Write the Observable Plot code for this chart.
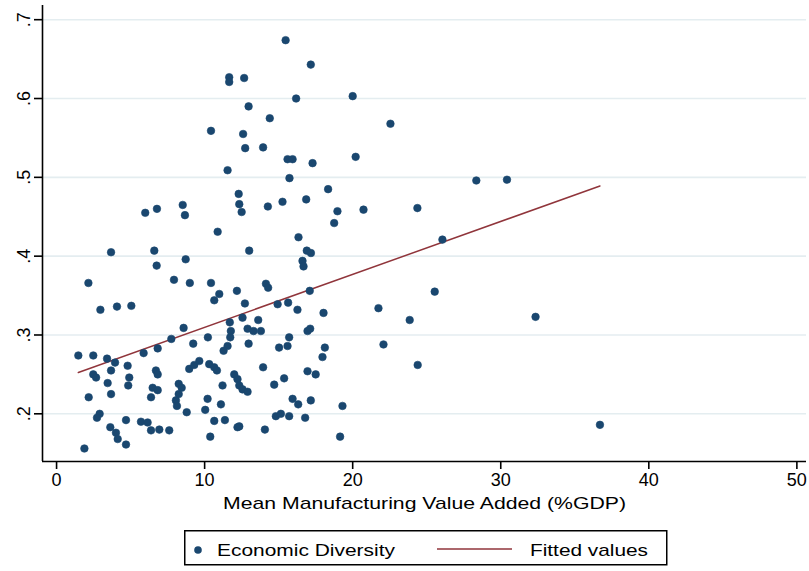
<!DOCTYPE html>
<html>
<head>
<meta charset="utf-8">
<script src="https://cdn.jsdelivr.net/npm/d3@7"></script>
<script src="https://cdn.jsdelivr.net/npm/@observablehq/plot@0.6"></script>
<style>
  html, body { margin: 0; padding: 0; background: #fff; }
  #wrap { position: relative; width: 809px; height: 571px; font-family: "Liberation Sans", Arial, sans-serif; }
  #legend { position: absolute; left: 184px; top: 530px; }
</style>
</head>
<body>
<div id="wrap"><div id="chart"></div><div id="legend"></div></div>
<script>
// Mean manufacturing value added (%GDP)
const mva = [
  15.47, 17.17, 11.66, 11.66, 12.67, 16.18, 20.0, 12.97, 14.4, 22.55,
  10.43, 12.6, 12.74, 13.95, 15.6, 15.94, 17.29, 20.2, 11.55, 15.73,
  18.34, 28.35, 30.42, 12.3, 12.34, 12.5, 14.27, 15.26, 16.86, 18.97,
  20.73, 24.37, 18.75, 5.99, 6.78, 8.52, 8.67, 10.88, 16.34, 26.06,
  3.68, 6.6, 6.76, 8.72, 13.01, 16.9, 17.18, 16.61, 16.68, 2.15,
  7.93, 9.0, 10.43, 10.99, 10.65, 12.18, 14.14, 14.29, 17.1, 25.54,
  12.72, 14.93, 15.64, 16.27, 18.03, 21.74, 23.85, 32.35, 2.96, 4.08,
  5.05, 8.58, 7.75, 9.23, 10.22, 11.7, 11.77, 11.73, 11.55, 11.28,
  12.56, 13.62, 12.9, 13.3, 13.8, 12.97, 15.71, 15.6, 15.03, 16.95,
  17.13, 18.12, 17.96, 22.08, 1.47, 2.48, 3.41, 3.95, 5.88, 6.83,
  4.8, 3.68, 2.48, 2.67, 4.91, 4.84, 3.45, 3.68, 2.17, 6.71,
  6.83, 6.49, 6.83, 6.38, 8.25, 8.45, 8.25, 8.06, 8.13, 8.79,
  8.96, 9.3, 9.64, 10.31, 10.65, 10.83, 13.95, 10.2, 10.04, 11.1,
  11.21, 12.0, 12.22, 12.34, 12.56, 12.9, 14.7, 15.37, 16.95, 17.5,
  24.39, 2.91, 2.73, 3.63, 4.01, 4.13, 4.69, 4.69, 5.7, 6.15,
  6.38, 6.94, 7.61, 1.88, 10.38, 10.65, 11.37, 12.22, 15.94, 16.32,
  17.17, 14.81, 15.15, 15.71, 16.79, 19.31, 12.34, 14.07, 19.15, 36.7
];
// Economic diversity
const diversity = [
  0.674, 0.643, 0.627, 0.621, 0.626, 0.600, 0.603, 0.590, 0.575, 0.568,
  0.559, 0.555, 0.537, 0.538, 0.523, 0.523, 0.518, 0.526, 0.509, 0.499,
  0.485, 0.496, 0.497, 0.479, 0.466, 0.456, 0.463, 0.469, 0.472, 0.457,
  0.459, 0.461, 0.442, 0.455, 0.460, 0.465, 0.452, 0.431, 0.424, 0.421,
  0.405, 0.407, 0.388, 0.396, 0.407, 0.407, 0.404, 0.394, 0.387, 0.366,
  0.370, 0.366, 0.366, 0.352, 0.344, 0.356, 0.365, 0.360, 0.356, 0.355,
  0.340, 0.339, 0.341, 0.332, 0.328, 0.334, 0.319, 0.323, 0.332, 0.336,
  0.337, 0.309, 0.295, 0.289, 0.297, 0.316, 0.305, 0.297, 0.286, 0.280,
  0.322, 0.319, 0.308, 0.305, 0.305, 0.289, 0.297, 0.286, 0.284, 0.305,
  0.308, 0.284, 0.272, 0.288, 0.274, 0.274, 0.270, 0.265, 0.277, 0.283,
  0.261, 0.255, 0.250, 0.246, 0.246, 0.236, 0.239, 0.225, 0.221, 0.255,
  0.250, 0.233, 0.230, 0.221, 0.238, 0.233, 0.225, 0.217, 0.210, 0.202,
  0.257, 0.262, 0.267, 0.263, 0.259, 0.255, 0.259, 0.219, 0.205, 0.212,
  0.236, 0.250, 0.244, 0.236, 0.231, 0.228, 0.237, 0.245, 0.254, 0.250,
  0.262, 0.200, 0.195, 0.183, 0.176, 0.168, 0.161, 0.192, 0.190, 0.189,
  0.179, 0.180, 0.179, 0.156, 0.171, 0.191, 0.192, 0.183, 0.219, 0.212,
  0.217, 0.197, 0.200, 0.197, 0.195, 0.210, 0.184, 0.180, 0.171, 0.186
];
// Fitted values (end points)
const fitX = [1.47, 36.7];
const fitY = [0.2525, 0.489];

const xTicks = [0, 10, 20, 30, 40, 50];
const xTickLabels = ["0", "10", "20", "30", "40", "50"];
const yTicks = [0.2, 0.3, 0.4, 0.5, 0.6, 0.7];
const yTickLabels = [".2", ".3", ".4", ".5", ".6", ".7"];
const xTitle = "Mean Manufacturing Value Added (%GDP)";
const seriesNames = ["Economic Diversity", "Fitted values"];

const xDomain = [-0.95, 50.65];
const yDomain = [0.1395, 0.718];

const dotColor = "#1a476f";
const lineColor = "#90353b";
const font = "'Liberation Sans', Arial, Helvetica, sans-serif";

const points = mva.map((x, i) => ({x, y: diversity[i]}));
const fit = fitX.map((x, i) => ({x, y: fitY[i]}));

const chart = Plot.plot({
  width: 809,
  height: 522,
  marginLeft: 42,
  marginRight: 3,
  marginTop: 5,
  marginBottom: 61,
  x: {domain: xDomain},
  y: {domain: yDomain},
  style: {fontFamily: font, fontSize: "18px", color: "#000", background: "#fff", overflow: "visible"},
  marks: [
    Plot.gridY(yTicks, {stroke: "#e4edf0", strokeOpacity: 1, strokeWidth: 1.6}),
    Plot.ruleX([xDomain[0]], {stroke: "#000", strokeWidth: 1.6}),
    Plot.ruleY([yDomain[0]], {stroke: "#000", strokeWidth: 1.6}),
    Plot.axisX({ticks: xTicks, tickSize: 8, tickPadding: 4, strokeWidth: 1.6,
      tickFormat: d => xTickLabels[xTicks.indexOf(d)], label: null, fontSize: 18}),
    Plot.axisY({ticks: yTicks, tickSize: 8, tickPadding: 5, strokeWidth: 1.6, tickRotate: -90,
      tickFormat: d => yTickLabels[yTicks.indexOf(d)], label: null, fontSize: 18}),
    Plot.line(fit, {x: "x", y: "y", stroke: lineColor, strokeWidth: 1.5}),
    Plot.dot(points, {x: "x", y: "y", r: 3.8, fill: dotColor, stroke: dotColor, strokeWidth: 0.6}),
    Plot.text([xTitle], {frameAnchor: "bottom", dy: 47, fontSize: 17, fill: "#000"})
  ]
});
document.getElementById("chart").appendChild(chart);

// stretch the axis title to the reference width
d3.select(chart).selectAll("text").filter(function() { return this.textContent === xTitle; })
  .attr("textLength", 403).attr("lengthAdjust", "spacingAndGlyphs");

// legend below the plot
const lg = d3.select("#legend").append("svg")
  .attr("width", 484).attr("height", 36)
  .style("font-family", font).style("display", "block");
lg.append("rect").attr("x", 0.75).attr("y", 0.75).attr("width", 482).attr("height", 34)
  .attr("fill", "#fff").attr("stroke", "#000").attr("stroke-width", 1.5);
lg.append("circle").attr("cx", 14).attr("cy", 20).attr("r", 3.8).attr("fill", dotColor);
lg.append("text").attr("x", 33).attr("y", 26).attr("font-size", 17)
  .attr("textLength", 178).attr("lengthAdjust", "spacingAndGlyphs").text(seriesNames[0]);
lg.append("line").attr("x1", 253).attr("x2", 328).attr("y1", 19).attr("y2", 19)
  .attr("stroke", lineColor).attr("stroke-width", 1.5);
lg.append("text").attr("x", 346).attr("y", 26).attr("font-size", 17)
  .attr("textLength", 118).attr("lengthAdjust", "spacingAndGlyphs").text(seriesNames[1]);
</script>
</body>
</html>
